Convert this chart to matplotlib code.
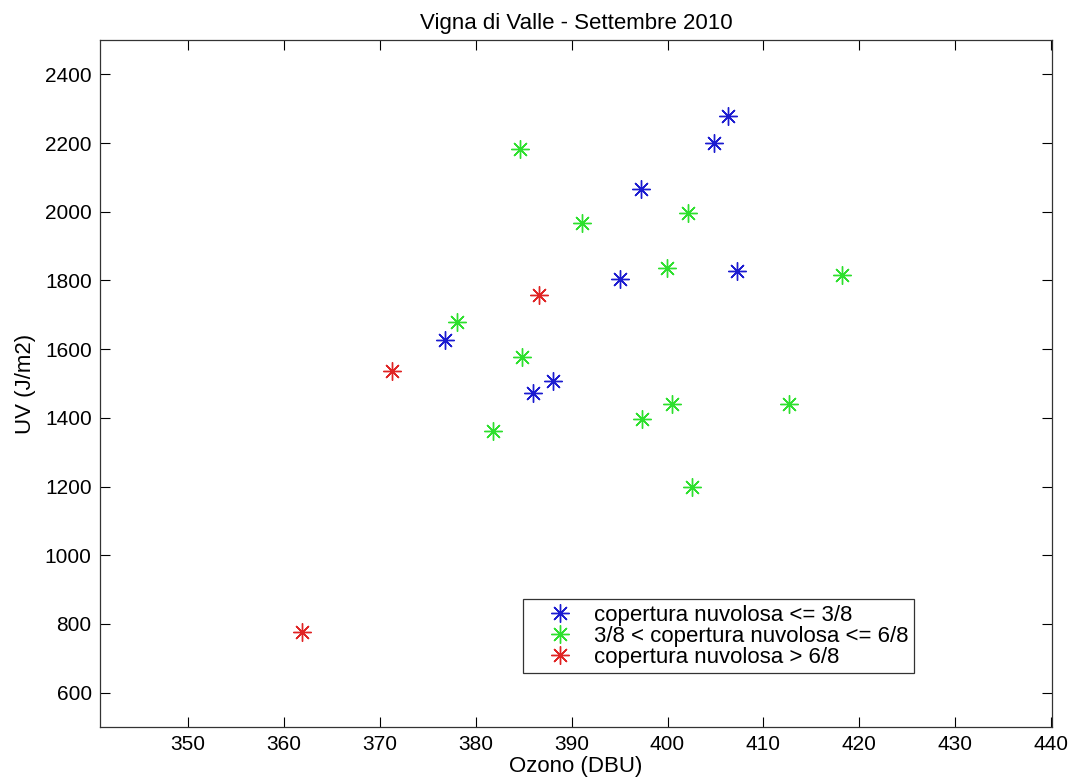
import matplotlib
matplotlib.use("Agg")
import matplotlib.pyplot as plt

plt.rcParams['font.family'] = ['Liberation Sans', 'DejaVu Sans']

# copertura nuvolosa <= 3/8
ozono_1 = [406.3, 404.8, 397.2, 395.0, 407.2, 376.8, 388.1, 386.0]
uv_1 = [2280, 2200, 2065, 1804, 1827, 1626, 1507, 1473]

# 3/8 < copertura nuvolosa <= 6/8
ozono_2 = [384.6, 391.1, 402.1, 399.9, 418.2, 378.0, 384.8, 381.8, 397.3, 400.5, 412.7, 402.6]
uv_2 = [2182, 1967, 1997, 1837, 1817, 1679, 1578, 1363, 1397, 1441, 1441, 1199]

# copertura nuvolosa > 6/8
ozono_3 = [386.6, 371.3, 361.9]
uv_3 = [1757, 1537, 778]

labels = ["copertura nuvolosa <= 3/8",
          "3/8 < copertura nuvolosa <= 6/8",
          "copertura nuvolosa > 6/8"]

fig = plt.figure(figsize=(10.75, 7.84), dpi=100)
ax = fig.add_axes([100/1075, 57/784, 952/1075, 687/784])

star = (8, 2, 0)
ax.plot(ozono_1, uv_1, linestyle='none', marker=star, ms=13, mew=1.0,
        color='#1c1cd0', label=labels[0])
ax.plot(ozono_2, uv_2, linestyle='none', marker=star, ms=13, mew=1.0,
        color='#2ee02e', label=labels[1])
ax.plot(ozono_3, uv_3, linestyle='none', marker=star, ms=13, mew=1.0,
        color='#e02424', label=labels[2])

ax.set_xlim(340.8, 440.1)
ax.set_ylim(500, 2500)
ax.set_xticks(range(350, 441, 10))
ax.set_yticks(range(600, 2401, 200))
ax.tick_params(direction='in', length=7, top=True, right=True, labelsize=15, pad=6)
for s in ax.spines.values():
    s.set_linewidth(0.9)
    s.set_color('#333333')

ax.set_title("Vigna di Valle - Settembre 2010", fontsize=16, pad=8)
ax.set_xlabel("Ozono (DBU)", fontsize=16, labelpad=1)
ax.set_ylabel("UV (J/m2)", fontsize=16, labelpad=6)

# MATLAB-style legend box
leg = ax.legend(loc='upper left', bbox_to_anchor=(523/1075, 1 - 599/784),
                bbox_transform=fig.transFigure, fancybox=False, framealpha=1,
                edgecolor='#333333', fontsize=16, handlelength=2.8,
                handletextpad=0.15, borderpad=0.25, labelspacing=0.0,
                borderaxespad=0)
leg.get_frame().set_linewidth(0.9)

fig.savefig("out.png", dpi=100)
